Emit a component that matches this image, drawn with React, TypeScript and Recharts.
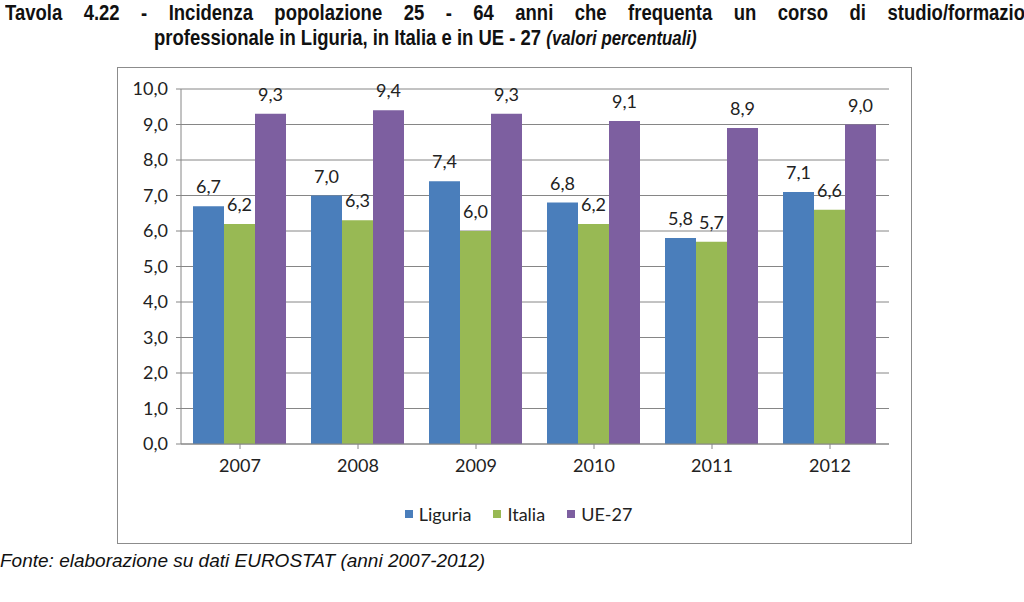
import { BarChart, Bar, XAxis, YAxis, CartesianGrid, Legend, LabelList } from "recharts";

// Tavola 4.22 — adult participation in education/training, Liguria vs Italia vs UE-27.

const years = ["2007", "2008", "2009", "2010", "2011", "2012"];
const liguria = [6.7, 7.0, 7.4, 6.8, 5.8, 7.1];
const italia = [6.2, 6.3, 6.0, 6.2, 5.7, 6.6];
const ue27 = [9.3, 9.4, 9.3, 9.1, 8.9, 9.0];
const yTicks = [0, 1, 2, 3, 4, 5, 6, 7, 8, 9, 10];

const series = [
  { key: "Liguria", color: "#4a7ebb" },
  { key: "Italia", color: "#98b954" },
  { key: "UE-27", color: "#7d5fa0" },
];

const data = years.map((y, i) => ({
  year: y,
  Liguria: liguria[i],
  Italia: italia[i],
  "UE-27": ue27[i],
}));

const fmt = (v: number | string) => Number(v).toFixed(1).replace(".", ",");
const font = "Lato, 'Open Sans', sans-serif";
const titleFont = "'Liberation Sans', Arial, sans-serif";

function ChartLegend() {
  return (
    <div
      style={{
        display: "flex",
        justifyContent: "center",
        alignItems: "center",
        height: 24,
        paddingLeft: 30,
        fontFamily: font,
        fontSize: 18,
        color: "#222",
      }}
    >
      {series.map((s) => (
        <span key={s.key} style={{ display: "inline-flex", alignItems: "center", margin: "0 11px" }}>
          <span style={{ width: 8, height: 8, background: s.color, marginRight: 6, display: "inline-block" }} />
          {s.key}
        </span>
      ))}
    </div>
  );
}

export default function App() {
  return (
    <div style={{ position: "absolute", left: 0, top: 0, width: 1024, height: 602, background: "#fff", overflow: "hidden" }}>
      <div
        style={{
          position: "absolute",
          left: 5,
          top: 0,
          width: 1240,
          transform: "scaleX(0.84)",
          transformOrigin: "0 0",
          fontFamily: titleFont,
          fontWeight: 700,
          fontSize: 22,
          color: "#111",
          textAlign: "justify",
          textAlignLast: "justify",
          whiteSpace: "nowrap",
        }}
      >
        Tavola 4.22 - Incidenza popolazione 25 - 64 anni che frequenta un corso di studio/formazione
      </div>
      <div
        style={{
          position: "absolute",
          left: 154,
          top: 25,
          transform: "scaleX(0.84)",
          transformOrigin: "0 0",
          fontFamily: titleFont,
          fontWeight: 700,
          fontSize: 22,
          color: "#111",
          whiteSpace: "nowrap",
        }}
      >
        professionale in Liguria, in Italia e in UE - 27{" "}
        <span style={{ fontStyle: "italic", fontSize: 20 }}>(valori percentuali)</span>
      </div>

      <div style={{ position: "absolute", left: 117, top: 67, width: 793, height: 475, border: "1px solid #8c8c8c" }}>
        <BarChart
          width={793}
          height={475}
          data={data}
          margin={{ top: 21, right: 22, bottom: 17, left: 0 }}
          barCategoryGap={12}
          barGap={0}
        >
          <CartesianGrid vertical={false} stroke="#868686" />
          <XAxis
            dataKey="year"
            tick={{ fontSize: 18, fill: "#222", fontFamily: font }}
            tickLine={{ stroke: "#868686" }}
            axisLine={{ stroke: "#868686" }}
            tickSize={5}
            tickMargin={10}
            height={58}
          />
          <YAxis
            domain={[0, 10]}
            ticks={yTicks}
            interval={0}
            tickFormatter={fmt}
            tick={{ fontSize: 18, fill: "#222", fontFamily: font }}
            tickLine={{ stroke: "#868686" }}
            axisLine={{ stroke: "#868686" }}
            tickSize={5}
            tickMargin={8}
            width={63}
          />
          <Legend verticalAlign="bottom" align="center" content={() => <ChartLegend />} />
          {series.map((s) => (
            <Bar key={s.key} dataKey={s.key} fill={s.color} isAnimationActive={false}>
              <LabelList
                dataKey={s.key}
                position="top"
                offset={13}
                formatter={fmt}
                style={{ fontSize: 18, fill: "#222", fontFamily: font }}
              />
            </Bar>
          ))}
        </BarChart>
      </div>

      <div
        style={{
          position: "absolute",
          left: 0,
          top: 550,
          fontFamily: titleFont,
          fontStyle: "italic",
          fontSize: 19,
          color: "#111",
          whiteSpace: "nowrap",
        }}
      >
        Fonte: elaborazione su dati EUROSTAT (anni 2007-2012)
      </div>
    </div>
  );
}
